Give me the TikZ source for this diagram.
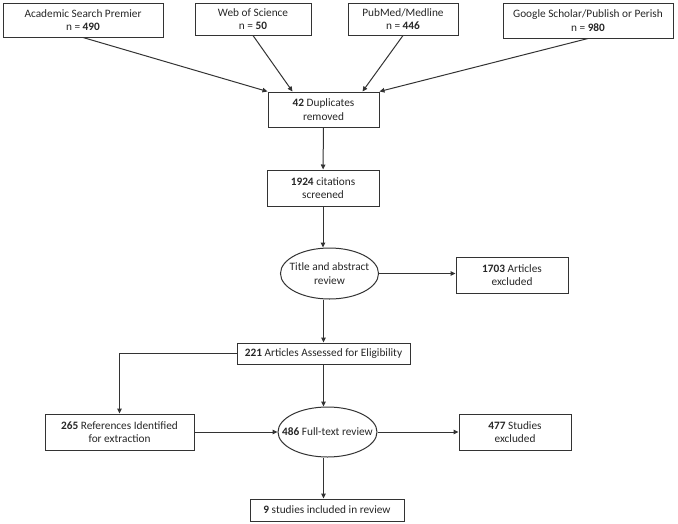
\documentclass[tikz,border=0pt]{standalone}
\usepackage{fontspec}
\setmainfont{Carlito}
\usepackage{xcolor}
\definecolor{cLine}{HTML}{333333}
\definecolor{cText}{HTML}{262626}
\usepackage{tikz}
\usetikzlibrary{positioning,arrows.meta,shapes.geometric,calc}
\tikzset{
  prisma-box/.style={draw=cLine,line width=1pt,inner sep=0pt,align=center,
    text=cText,font=\fontsize{11.3}{13.3}\selectfont},
  % oval: text node only, the ellipse is drawn round it below
  prisma-oval/.style={prisma-box,draw=none},
  oval-line/.style={draw=cLine,line width=1pt},
  arrow/.style={-{Triangle[length=5pt,width=4.5pt]},line width=1pt,draw=cLine},
}

\begin{document}
\begin{tikzpicture}[x=1pt,y=-1pt]
  \useasboundingbox (0,0) rectangle (678,523);
  % sources
  \node[prisma-box,minimum width=160,minimum height=34] (asp) at (83,20)
    {Academic Search Premier\\n = \textbf{490}};
  \node[prisma-box,minimum width=116,minimum height=32] (wos) at (253,19)
    {Web of Science\\n = \textbf{50}};
  \node[prisma-box,minimum width=110,minimum height=32] (pubmed) at (403,19)
    {PubMed/Medline\\n = \textbf{446}};
  \node[prisma-box,minimum width=170,minimum height=35] (scholar) at (588,20.5)
    {Google Scholar/Publish or Perish\\n = \textbf{980}};
  % screening
  \node[prisma-box,minimum width=111,minimum height=35] (dup) at (323.5,109.5)
    {\textbf{42} Duplicates\\removed};
  \node[prisma-box,minimum width=112,minimum height=36] (screen) at (323,188)
    {\textbf{1924} citations\\screened};
  \node[prisma-oval,minimum width=98,minimum height=51] (title) at (329.5,273.5)
    {Title and abstract\\review};
  \draw[oval-line] (title.center) ellipse [x radius=49,y radius=25.5];
  \node[prisma-box,minimum width=112,minimum height=36] (excl1) at (512,275)
    {\textbf{1703} Articles\\excluded};
  % eligibility
  \node[prisma-box,minimum width=173,minimum height=21] (elig) at (323.5,353.5)
    {\textbf{221} Articles Assessed for Eligibility};
  \node[prisma-box,minimum width=149,minimum height=36] (refs) at (119.5,432)
    {\textbf{265} References Identified\\for extraction};
  \node[prisma-oval,minimum width=99,minimum height=50] (full) at (327.5,432)
    {\textbf{486} Full-text review};
  \draw[oval-line] (full.center) ellipse [x radius=49.5,y radius=25];
  \node[prisma-box,minimum width=112,minimum height=36] (excl2) at (515,432)
    {\textbf{477} Studies\\excluded};
  \node[prisma-box,minimum width=154,minimum height=22] (incl) at (327,510)
    {\textbf{9} studies included in review};

  \draw[arrow] (asp.south) -- (dup.north west);
  \draw[arrow] (wos.south) -- ($(dup.north west)+(25,0)$);
  \draw[arrow] (pubmed.south) -- ($(dup.north east)+(-17,0)$);
  \draw[arrow] (scholar.south) -- (dup.north east);
  \draw[arrow] (dup) -- (screen);
  \draw[arrow] (screen.south) -- (screen.south |- title.north);
  \draw[arrow] (title.east) -- (title.east -| excl1.west);
  \draw[arrow] (elig.north |- title.south) -- (elig.north);
  \draw[arrow] (elig.west) -| (refs.north);
  \draw[arrow] (elig.south) -- (elig.south |- full.north);
  \draw[arrow] (refs.east) -- (full.west);
  \draw[arrow] (full.east) -- (excl2.west);
  \draw[arrow] (elig.south |- full.south) -- (elig.south |- incl.north);
\end{tikzpicture}
\end{document}
